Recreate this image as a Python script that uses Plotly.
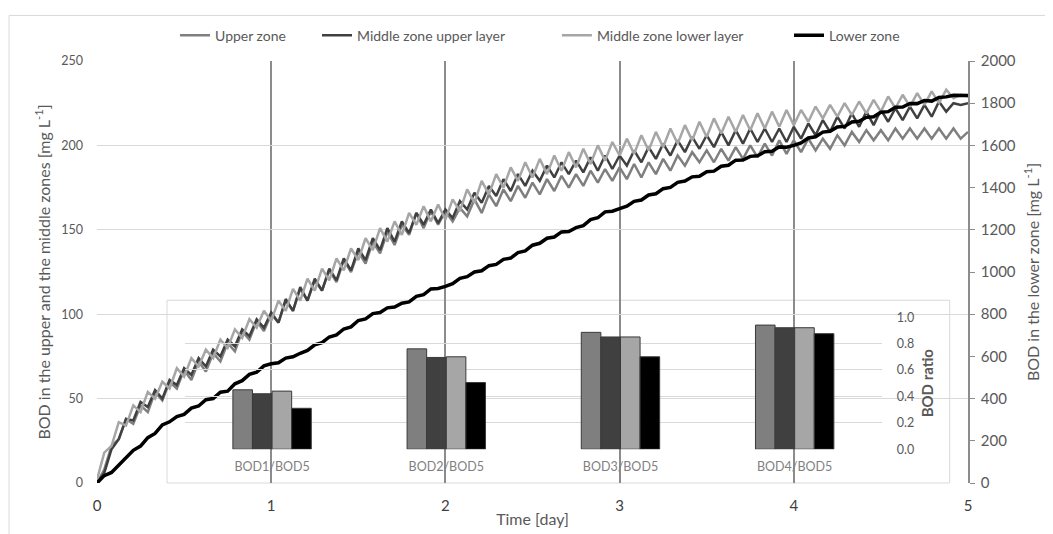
import plotly.graph_objects as go

# Time axis: hourly readings over 5 days
hours = list(range(0, 121))
time_day = [h / 24 for h in hours]

upper_zone = [
    0, 8, 22, 26, 38, 35, 46, 42, 54, 49, 60, 56, 67, 61, 72, 66, 77, 72, 83, 78, 90, 85, 96, 90,
    100, 95, 108, 102, 115, 108, 120, 114, 126, 119, 132, 125, 137, 130, 143, 136, 149, 141, 153, 147, 160, 151, 161, 153,
    161, 155, 163, 158, 168, 160, 171, 164, 174, 167, 176, 169, 178, 171, 180, 173, 182, 175, 183, 176, 185, 178, 186, 179,
    187, 180, 189, 181, 190, 183, 192, 185, 194, 188, 196, 190, 197, 190, 198, 191, 199, 192, 200, 193, 201, 194, 203, 195,
    203, 196, 204, 197, 204, 198, 206, 200, 208, 202, 209, 203, 209, 203, 210, 204, 210, 204, 210, 204, 210, 204, 210, 204,
    208,
]

middle_upper = [
    0, 6, 20, 26, 38, 37, 48, 45, 55, 50, 61, 58, 68, 64, 74, 69, 79, 75, 85, 81, 91, 87, 97, 92,
    101, 95, 109, 102, 116, 108, 121, 114, 127, 120, 133, 126, 139, 132, 145, 138, 151, 143, 155, 148, 160, 153, 162, 154,
    162, 157, 167, 162, 172, 166, 176, 170, 180, 173, 183, 176, 185, 179, 188, 181, 190, 183, 191, 184, 193, 185, 194, 186,
    194, 188, 197, 190, 199, 192, 201, 194, 203, 196, 205, 198, 206, 199, 208, 200, 209, 201, 210, 202, 210, 202, 210, 202,
    211, 204, 213, 206, 215, 208, 217, 210, 219, 211, 220, 212, 221, 214, 222, 215, 223, 216, 224, 217, 226, 220, 225, 224,
    225,
]

middle_lower = [
    2, 18, 22, 36, 34, 46, 42, 54, 50, 60, 56, 68, 63, 74, 69, 79, 74, 85, 80, 91, 86, 97, 92, 102,
    96, 108, 102, 115, 108, 121, 114, 127, 120, 133, 126, 139, 132, 145, 138, 151, 143, 155, 147, 160, 153, 164, 155, 165,
    156, 168, 161, 174, 166, 179, 171, 183, 175, 187, 179, 190, 181, 192, 183, 194, 185, 196, 187, 198, 189, 200, 191, 202,
    194, 204, 195, 206, 197, 208, 199, 210, 201, 212, 203, 214, 205, 216, 207, 217, 208, 218, 209, 219, 210, 220, 211, 221,
    212, 221, 214, 223, 216, 224, 217, 225, 218, 226, 219, 227, 220, 229, 222, 230, 223, 231, 224, 232, 225, 233, 228, 230,
    229,
]

lower_zone = [
    0, 35, 50, 85, 115, 155, 175, 215, 235, 275, 290, 315, 325, 355, 365, 395, 400, 430, 435, 470, 485, 515, 525, 555,
    565, 570, 592, 598, 615, 628, 655, 665, 692, 702, 730, 740, 770, 778, 803, 808, 830, 834, 852, 858, 885, 893, 920, 922,
    932, 945, 970, 978, 1000, 1006, 1030, 1036, 1060, 1066, 1092, 1100, 1127, 1136, 1160, 1166, 1190, 1192, 1210, 1220, 1248, 1257, 1285, 1288,
    1300, 1312, 1335, 1341, 1365, 1371, 1395, 1401, 1425, 1431, 1451, 1454, 1475, 1478, 1501, 1506, 1530, 1531, 1548, 1551, 1570, 1572, 1593, 1591,
    1600, 1612, 1635, 1641, 1663, 1667, 1687, 1690, 1711, 1714, 1733, 1736, 1757, 1760, 1781, 1782, 1799, 1798, 1813, 1810, 1827, 1830, 1838, 1835,
    1836,
]

# Inset: BOD ratios
ratio_categories = ["BOD1/BOD5", "BOD2/BOD5", "BOD3/BOD5", "BOD4/BOD5"]
ratio_upper = [0.45, 0.76, 0.885, 0.94]
ratio_mid_upper = [0.42, 0.695, 0.85, 0.92]
ratio_mid_lower = [0.44, 0.70, 0.85, 0.92]
ratio_lower = [0.31, 0.505, 0.70, 0.875]

series_names = ["Upper zone", "Middle zone upper layer", "Middle zone lower layer", "Lower zone"]
colors = ["#7f7f7f", "#404040", "#a6a6a6", "#000000"]

FONT = "Lato"
TXT = "#595959"

fig = go.Figure()

# inset bars (drawn on x3/y3)
for name, vals, col in zip(series_names, [ratio_upper, ratio_mid_upper, ratio_mid_lower, ratio_lower], colors):
    fig.add_trace(go.Bar(
        x=ratio_categories, y=vals, name=name, showlegend=False,
        marker=dict(color=col, line=dict(color="#3a3a3a", width=1)),
        xaxis="x3", yaxis="y3",
    ))

fig.add_trace(go.Scatter(x=time_day, y=upper_zone, name=series_names[0], mode="lines",
                         line=dict(color=colors[0], width=2.5), legend="legend"))
fig.add_trace(go.Scatter(x=time_day, y=middle_upper, name=series_names[1], mode="lines",
                         line=dict(color=colors[1], width=2.5), legend="legend2"))
fig.add_trace(go.Scatter(x=time_day, y=middle_lower, name=series_names[2], mode="lines",
                         line=dict(color=colors[2], width=2.5), legend="legend3"))
fig.add_trace(go.Scatter(x=time_day, y=lower_zone, name=series_names[3], mode="lines",
                         line=dict(color=colors[3], width=3.5), yaxis="y2", legend="legend4"))

def leg(xpos):
    return dict(orientation="h", x=xpos, xanchor="left", y=1.06, yanchor="middle",
                font=dict(size=14, color=TXT), bgcolor="rgba(0,0,0,0)", itemwidth=30)

fig.update_layout(
    width=1053, height=534,
    margin=dict(l=89, r=93, t=50, b=59),
    paper_bgcolor="white", plot_bgcolor="rgba(0,0,0,0)",
    font=dict(family=FONT, size=12, color=TXT),
    barmode="group", bargap=0.55, bargroupgap=0,
    legend=leg(0.0896), legend2=leg(0.2526), legend3=leg(0.528), legend4=leg(0.7945),
    xaxis=dict(range=[0, 5], dtick=1, tick0=0, showgrid=True, gridcolor="#8c8c8c", gridwidth=1.5,
               zeroline=False, showline=False, ticks="", tickfont=dict(size=15, color="#404040"),
               ticklabelstandoff=12,
               title=dict(text="Time [day]", font=dict(size=16, color=TXT), standoff=0)),
    yaxis=dict(range=[0, 250], dtick=50, showgrid=True, gridcolor="#d9d9d9", zeroline=False,
               showline=False, ticks="", tickfont=dict(size=12.5, color=TXT), ticklabelstandoff=13,
               title=dict(text="BOD in the upper and the middle zones [mg L<sup>-1</sup>]",
                          font=dict(size=16, color=TXT), standoff=6)),
    yaxis2=dict(range=[0, 2000], dtick=200, overlaying="y", side="right", showgrid=False,
                zeroline=False, showline=True, linecolor="#8c8c8c", linewidth=1.5,
                ticks="outside", ticklen=5, tickcolor="#8c8c8c",
                tickfont=dict(size=15, color=TXT), ticklabelstandoff=3,
                title=dict(text="BOD in the lower zone [mg L<sup>-1</sup>]",
                           font=dict(size=16, color=TXT), standoff=13)),
    xaxis3=dict(domain=[0.101, 0.901], anchor="y3", type="category", showgrid=False,
                zeroline=False, showline=False, ticks="", tickfont=dict(size=12.5, color="#7f7f7f"),
                ticklabelstandoff=8),
    yaxis3=dict(domain=[0.08, 0.393], anchor="x3", side="right", range=[0, 1.0], dtick=0.2,
                tickformat=".1f", showgrid=True, gridcolor="#d9d9d9", zeroline=False,
                showline=False, ticks="", tickfont=dict(size=12.5, color=TXT), ticklabelstandoff=14,
                title=dict(text="<b>BOD ratio</b>", font=dict(size=15, color=TXT), standoff=9)),
    shapes=[
        dict(type="rect", xref="paper", yref="paper", x0=0.0804, x1=0.979, y0=0.0, y1=0.433,
             line=dict(color="#d9d9d9", width=1), fillcolor="rgba(0,0,0,0)", layer="below"),
        dict(type="rect", xref="paper", yref="paper", x0=-0.101, x1=1.2, y0=-0.2, y1=1.108,
             line=dict(color="#d9d9d9", width=1), fillcolor="rgba(0,0,0,0)", layer="below"),
    ],
)

fig.write_html("out.html")
